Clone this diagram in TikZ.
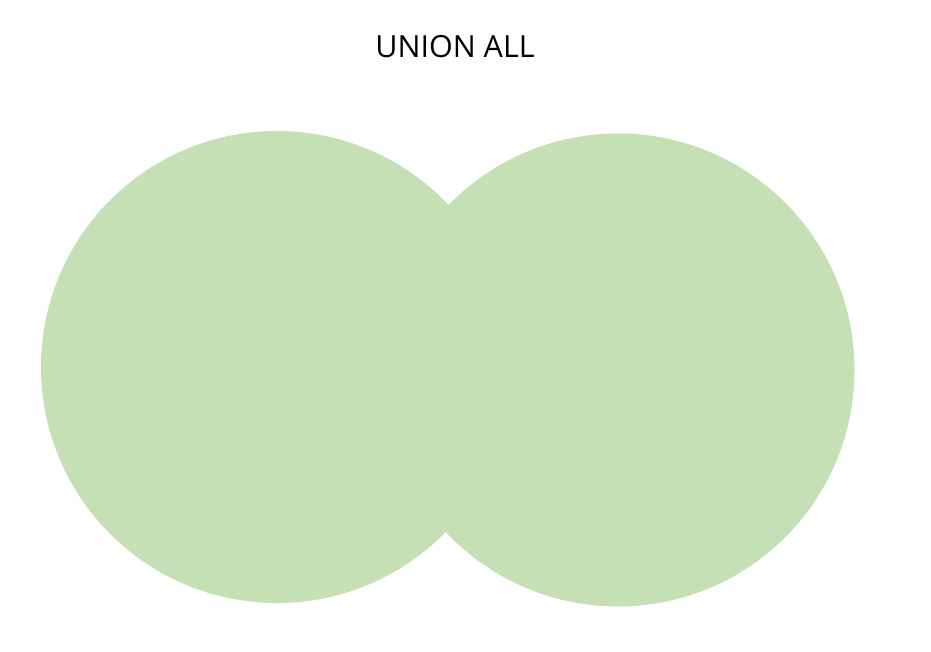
\documentclass[tikz,border=0pt]{standalone}
\usepackage{fontspec}
\setmainfont{Open Sans}
\definecolor{vgreen}{HTML}{C5E0B4}
\begin{document}
\begin{tikzpicture}[x=1pt,y=-1pt,
  setcircle/.style={circle,fill=vgreen,draw=none,minimum size=#1,inner sep=0pt}]
\useasboundingbox (0,0) rectangle (931,651);
\node[setcircle=472pt] (left) at (277,367) {};
\node[setcircle=473pt] (right) at (618,370) {};
\node[anchor=base,font=\fontsize{30.5}{36}\selectfont,inner sep=0pt] (title) at (455,57) {UNION ALL};
\end{tikzpicture}
\end{document}
